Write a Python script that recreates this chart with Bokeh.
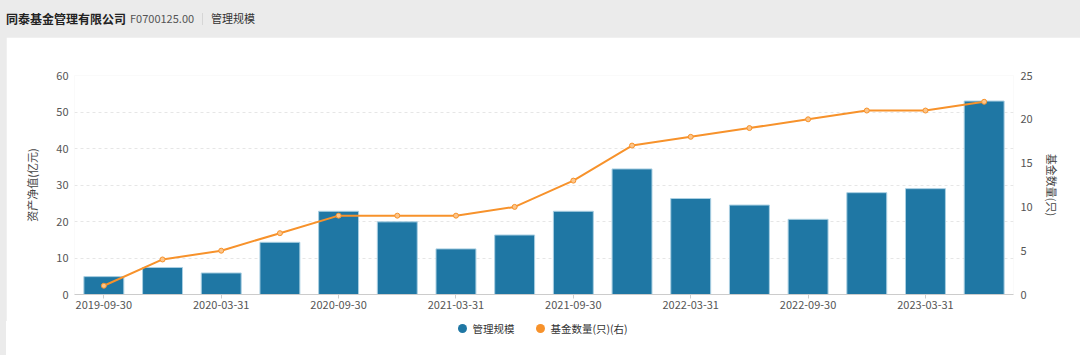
from bokeh.plotting import figure
from bokeh.models import (Range1d, LinearAxis, FixedTicker, SingleIntervalTicker,
                          ColumnDataSource, Div, Spacer)
from bokeh.layouts import column, row
from bokeh.embed import file_html
from bokeh.resources import INLINE

# ---- data ----
dates = ["2019-09-30", "2019-12-31", "2020-03-31", "2020-06-30", "2020-09-30", "2020-12-31",
         "2021-03-31", "2021-06-30", "2021-09-30", "2021-12-31", "2022-03-31", "2022-06-30",
         "2022-09-30", "2022-12-31", "2023-03-31", "2023-06-30"]
aum = [4.9, 7.4, 5.9, 14.3, 22.8, 19.9, 12.5, 16.3, 22.8, 34.4, 26.3, 24.5, 20.6, 27.9, 29.0, 53.0]
fund_count = [1, 4, 5, 7, 9, 9, 9, 10, 13, 17, 18, 19, 20, 21, 21, 22]
series_names = ["管理规模", "基金数量(只)(右)"]
left_label = "资产净值(亿元)"
right_label = "基金数量(只)"
company = "同泰基金管理有限公司"
code = "F0700125.00"
section = "管理规模"

FONT = "Noto Sans CJK SC"
BLUE = "#1f77a4"
ORANGE = "#f7922b"
GREY = "#ebebeb"

idx = list(range(len(dates)))
src = ColumnDataSource(dict(x=idx, aum=aum, cnt=fund_count))

# ---- header ----
header = Div(
    text=(f'<div style="display:flex;align-items:center;height:37px;padding-left:6px;'
          f'font-family:\'{FONT}\';white-space:nowrap">'
          f'<span style="font-size:12px;font-weight:bold;color:#222">{company}</span>'
          f'<span style="font-size:11px;color:#555;margin-left:4px">{code}</span>'
          f'<span style="display:inline-block;width:1px;height:12px;background:#d6d6d6;margin:0 8px"></span>'
          f'<span style="font-size:11px;color:#333">{section}</span></div>'),
    width=1080, height=37, margin=(0, 0, 0, 0),
    styles={"background-color": GREY})

# ---- chart ----
p = figure(width=1074, height=284, output_backend="svg", toolbar_location=None,
           x_range=Range1d(-0.5, len(dates) - 0.5), y_range=Range1d(0, 60),
           min_border_left=68, min_border_right=67, min_border_top=38, min_border_bottom=27,
           background_fill_color="white", border_fill_color="white",
           outline_line_color=None, margin=(0, 0, 0, 0))

p.extra_y_ranges = {"cnt": Range1d(0, 25)}

xa = p.xaxis[0]
xa.ticker = FixedTicker(ticks=idx[::2])
xa.major_label_overrides = {i: dates[i] for i in idx[::2]}
xa.axis_line_color = "#cccccc"
xa.major_tick_line_color = "#cccccc"
xa.major_tick_out = 4
xa.major_tick_in = 0
xa.minor_tick_line_color = None
xa.major_label_standoff = 2
xa.major_label_text_font = FONT
xa.major_label_text_font_size = "11px"
xa.major_label_text_color = "#555555"

lt = SingleIntervalTicker(interval=10)
ya = p.yaxis[0]
ya.ticker = lt
ya.axis_line_color = None
ya.major_tick_line_color = None
ya.major_tick_out = 0
ya.major_tick_in = 0
ya.minor_tick_line_color = None
ya.minor_tick_out = 0
ya.major_label_standoff = 6
ya.major_label_text_font = FONT
ya.major_label_text_font_size = "11px"
ya.major_label_text_color = "#555555"
ya.axis_label = left_label
ya.axis_label_text_font = FONT
ya.axis_label_text_font_size = "11px"
ya.axis_label_text_font_style = "normal"
ya.axis_label_text_color = "#444444"
ya.axis_label_standoff = 13

ra = LinearAxis(y_range_name="cnt", ticker=SingleIntervalTicker(interval=5))
ra.axis_line_color = None
ra.major_tick_line_color = None
ra.major_tick_out = 0
ra.major_tick_in = 0
ra.minor_tick_line_color = None
ra.minor_tick_out = 0
ra.major_label_standoff = 7
ra.major_label_text_font = FONT
ra.major_label_text_font_size = "11px"
ra.major_label_text_color = "#555555"
ra.axis_label = right_label
ra.axis_label_text_font = FONT
ra.axis_label_text_font_size = "11px"
ra.axis_label_text_font_style = "normal"
ra.axis_label_text_color = "#444444"
ra.axis_label_standoff = 8
try:
    ra.axis_label_orientation = "vertical"
except Exception:
    pass
p.add_layout(ra, "right")

p.xgrid.visible = False
p.ygrid.ticker = lt
p.ygrid.grid_line_color = "#e6e6e6"
p.ygrid.grid_line_dash = "3 3"

p.vbar(x="x", top="aum", width=0.68, source=src, fill_color=BLUE,
       line_color="#a9cfe2", line_width=1)
p.line(x="x", y="cnt", source=src, y_range_name="cnt", line_color=ORANGE, line_width=2)
p.scatter(x="x", y="cnt", source=src, y_range_name="cnt", marker="circle", size=5,
          fill_color="#fcc58a", line_color=ORANGE, line_width=1)

# ---- legend ----
def item(color, label, gap):
    return (f'<span style="display:inline-flex;align-items:center;margin-left:{gap}px">'
            f'<span style="display:inline-block;width:9px;height:9px;border-radius:50%;'
            f'background:{color};margin-right:5px"></span>'
            f'<span style="font-size:10.5px;color:#333">{label}</span></span>')

legend = Div(
    text=(f'<div style="display:flex;justify-content:center;align-items:center;height:14px;'
          f'width:1074px;font-family:\'{FONT}\';white-space:nowrap;padding-left:0px">'
          + item(BLUE, series_names[0], 0) + item(ORANGE, series_names[1], 22) + '</div>'),
    width=1074, height=34, margin=(0, 0, 0, 0),
    styles={"background-color": "white"})

strip = Spacer(width=6, height=318, margin=(0, 0, 0, 0), styles={"background-color": GREY})
layout = column(header, row(strip, column(p, legend, spacing=0), spacing=0), spacing=0,
                styles={"background-color": GREY})

open("out.html", "w").write(file_html(layout, INLINE))
